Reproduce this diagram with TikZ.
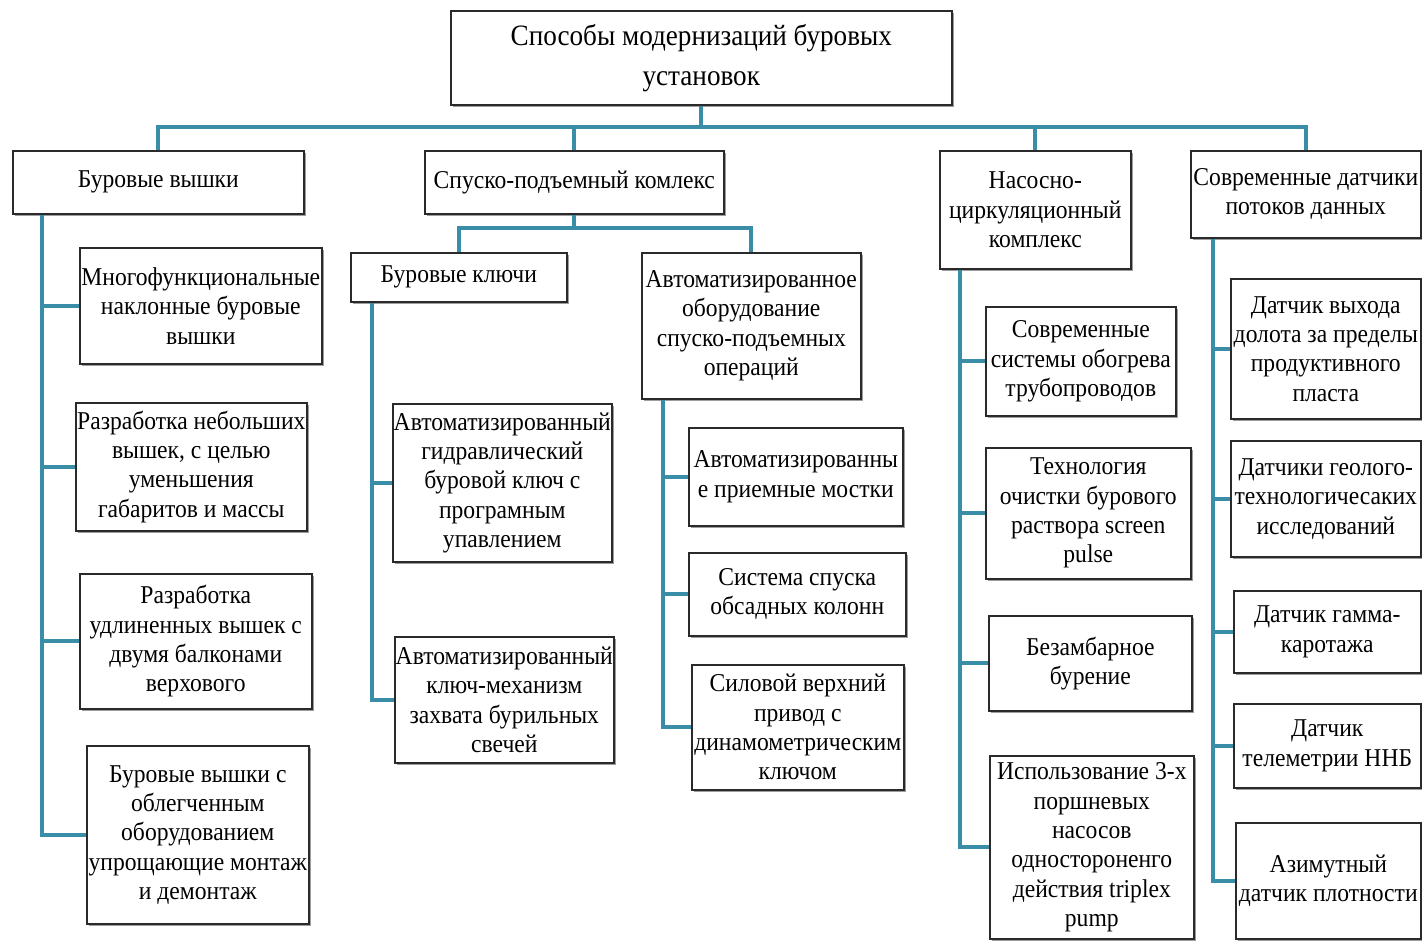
\documentclass[tikz,border=0pt]{standalone}
\usepackage{fontspec}
\setmainfont[FakeStretch=0.92]{Liberation Serif}
\usetikzlibrary{shadows}
\definecolor{linkteal}{HTML}{3A8DA6}
\definecolor{boxline}{HTML}{2A2A2A}
\tikzset{
  box/.style={draw=boxline, line width=0.9pt, fill=white, align=center, inner sep=0pt,
              anchor=north west, font=\fontsize{14.6}{16.7}\selectfont,
              drop shadow={shadow xshift=1.3pt, shadow yshift=-1.3pt, fill=black!70, opacity=0.55}},
  titlebox/.style={box, font=\fontsize{16.8}{22.6}\selectfont},
  sz/.style 2 args={minimum width=#1*0.02cm, minimum height=#2*0.02cm},
  link/.style={draw=linkteal, line width=2.3pt}}
\begin{document}
\begin{tikzpicture}[x=0.02cm, y=-0.02cm]
  \useasboundingbox (0,0) rectangle (1422,940);
  \node[titlebox, sz={501}{94}] (title) at (450,10) {Способы модернизаций буровых\\установок};
  \node[box, sz={291}{63}] (bw) at (12,150) {Буровые вышки};
  \node[box, sz={299}{63}] (spk) at (424,150) {Спуско-подъемный комлекс};
  \node[box, sz={191}{118}] (nck) at (939,150) {Насосно-\\циркуляционный\\комплекс};
  \node[box, sz={230}{87}] (dat) at (1190,150) {Современные датчики\\потоков данных};
  \node[box, sz={242}{116}] (bw1) at (79,247) {Многофункциональные\\наклонные буровые\\вышки};
  \node[box, sz={231}{128}] (bw2) at (75,402) {Разработка небольших\\вышек, с целью\\уменьшения\\габаритов и массы};
  \node[box, sz={232}{135}] (bw3) at (79,573) {Разработка\\удлиненных вышек с\\двумя балконами\\верхового};
  \node[box, sz={222}{178}] (bw4) at (86,745) {Буровые вышки с\\облегченным\\оборудованием\\упрощающие монтаж\\и демонтаж};
  \node[box, sz={216}{49}] (bk) at (350,252) {Буровые ключи};
  \node[box, sz={219}{146}] (ao) at (641,252) {Автоматизированное\\оборудование\\спуско-подъемных\\операций};
  \node[box, sz={219}{158}] (bk1) at (392,403) {Автоматизированный\\гидравлический\\буровой ключ с\\програмным\\упавлением};
  \node[box, sz={219}{126}] (bk2) at (394,636) {Автоматизированный\\ключ-механизм\\захвата бурильных\\свечей};
  \node[box, sz={214}{98}] (ao1) at (688,427) {Автоматизированны\\е приемные мостки};
  \node[box, sz={217}{83}] (ao2) at (688,552) {Система спуска\\обсадных колонн};
  \node[box, sz={212}{125}] (ao3) at (691,664) {Силовой верхний\\привод с\\динамометрическим\\ключом};
  \node[box, sz={190}{109}] (nc1) at (985,306) {Современные\\системы обогрева\\трубопроводов};
  \node[box, sz={205}{131}] (nc2) at (985,447) {Технология\\очистки бурового\\раствора screen\\pulse};
  \node[box, sz={203}{95}] (nc3) at (988,615) {Безамбарное\\бурение};
  \node[box, sz={204}{183}] (nc4) at (989,755) {Использование 3-х\\поршневых\\насосов\\одностороненго\\действия triplex\\pump};
  \node[box, sz={190}{140}] (dt1) at (1230,278) {Датчик выхода\\долота за пределы\\продуктивного\\пласта};
  \node[box, sz={190}{116}] (dt2) at (1230,440) {Датчики геолого-\\технологичесаких\\исследований};
  \node[box, sz={187}{82}] (dt3) at (1233,590) {Датчик гамма-\\каротажа};
  \node[box, sz={187}{84}] (dt4) at (1233,703) {Датчик\\телеметрии ННБ};
  \node[box, sz={185}{116}] (dt5) at (1235,822) {Азимутный\\датчик плотности};
  \coordinate (bus) at (0,127);
  \coordinate (sbus) at (0,228);
  \draw[link] (title.south) -- (title.south |- bus);
  \draw[link] (bw.north) |- (title.south |- bus) -| (dat.north);
  \draw[link] (spk.north) -- (spk.north |- bus);
  \draw[link] (nck.north) -- (nck.north |- bus);
  \draw[link] (spk.south) -- (spk.south |- sbus);
  \draw[link] (bk.north) |- (spk.south |- sbus) -| (ao.north);
  \foreach \c in {bw1,bw2,bw3,bw4}
    \draw[link] (bw.south west) ++(30,0) |- (\c.west);
  \foreach \c in {bk1,bk2}
    \draw[link] (bk.south west) ++(22,0) |- (\c.west);
  \foreach \c in {ao1,ao2,ao3}
    \draw[link] (ao.south west) ++(22,0) |- (\c.west);
  \foreach \c in {nc1,nc2,nc3,nc4}
    \draw[link] (nck.south west) ++(21,0) |- (\c.west);
  \foreach \c in {dt1,dt2,dt3,dt4,dt5}
    \draw[link] (dat.south west) ++(23,0) |- (\c.west);
\end{tikzpicture}
\end{document}
